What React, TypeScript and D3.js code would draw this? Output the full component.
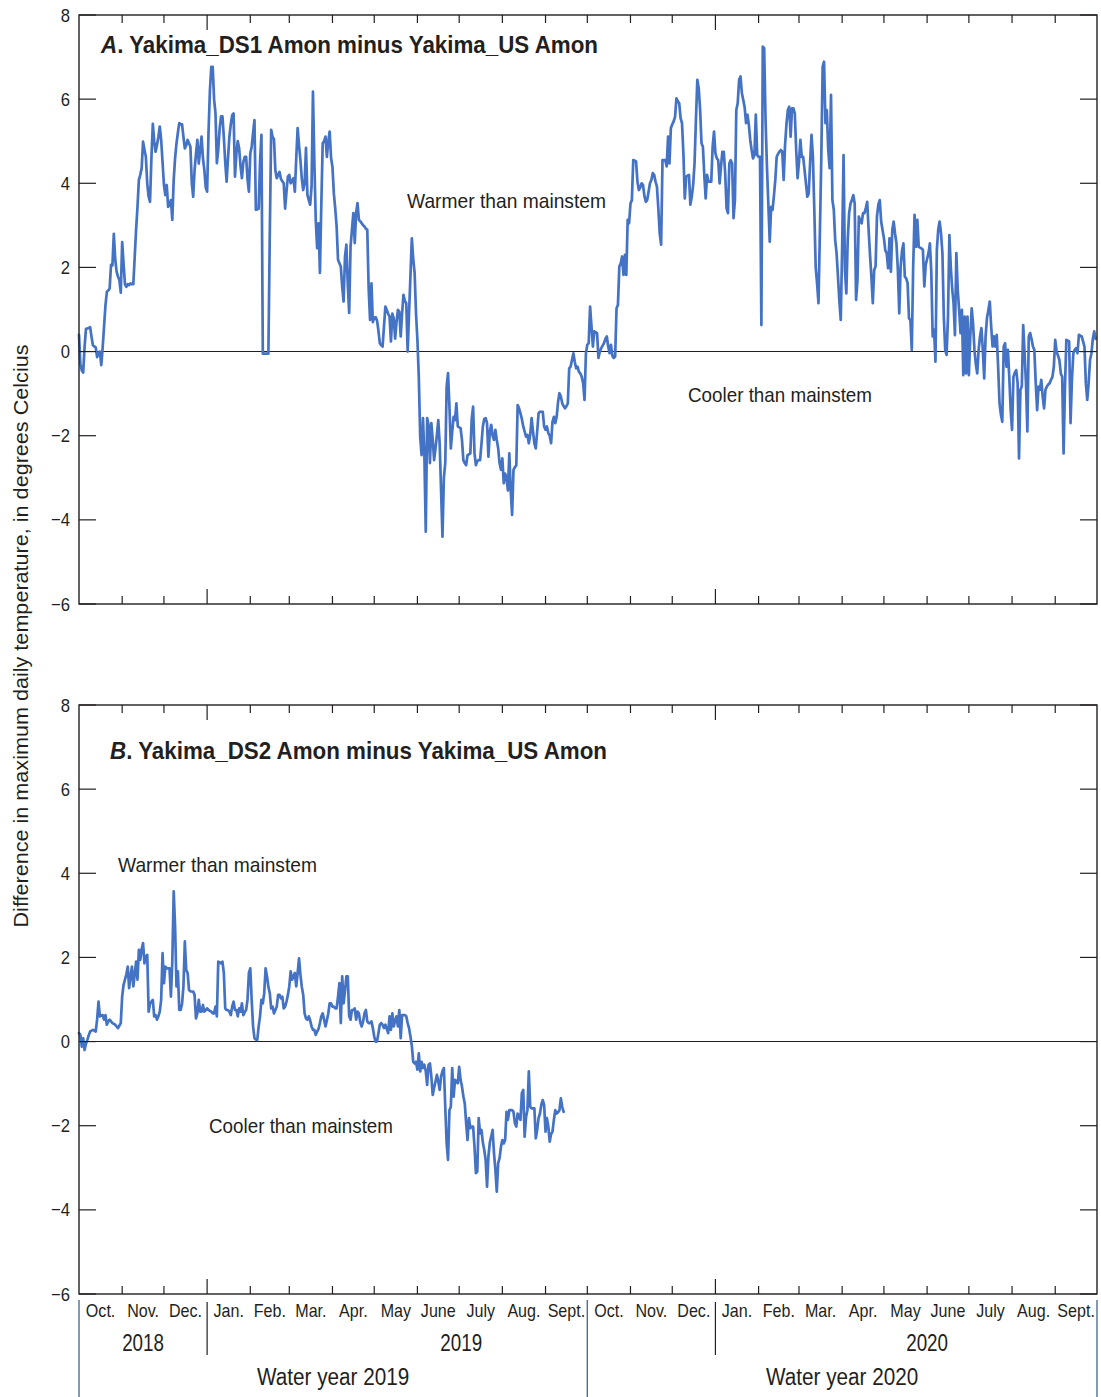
import React from "react";
import * as d3 from "d3";

// Daily difference in maximum water temperature, starting 1 Oct 2018
const START = Date.UTC(2018, 9, 1);
const END = Date.UTC(2020, 9, 1);
const DAY = 86400000;

// Yakima_DS1 Amon minus Yakima_US Amon, water years 2019-2020
const ds1Diff: number[] = [
  0.40, -0.30, -0.45, -0.50, 0.10, 0.54, 0.55, 0.56, 0.58, 0.35,
  0.15, 0.12, 0.10, -0.13, -0.05, 0.00, -0.32, 0.10, 0.60, 1.10,
  1.42, 1.45, 1.50, 2.06, 2.05, 2.80, 2.20, 1.90, 1.78, 1.70,
  1.40, 2.60, 2.10, 1.60, 1.54, 1.60, 1.58, 1.62, 1.60, 1.60,
  2.25, 2.90, 3.44, 4.08, 4.20, 4.36, 4.99, 4.80, 4.63, 4.00,
  3.68, 3.56, 4.60, 5.41, 5.00, 4.75, 4.91, 5.10, 5.35, 5.03,
  4.50, 3.96, 3.72, 3.96, 3.44, 3.50, 3.60, 3.13, 4.08, 4.60,
  4.95, 5.20, 5.43, 5.40, 5.40, 5.10, 4.83, 4.90, 5.03, 4.95,
  4.87, 4.00, 3.68, 4.32, 4.70, 5.03, 4.47, 4.80, 5.11, 4.60,
  4.32, 3.90, 3.80, 5.20, 6.20, 6.77, 6.77, 6.00, 5.67, 4.48,
  4.80, 5.30, 5.59, 5.59, 5.10, 4.50, 4.04, 4.60, 5.11, 5.40,
  5.62, 5.66, 4.16, 4.70, 5.00, 4.83, 4.40, 4.12, 4.50, 4.63,
  4.63, 4.10, 3.80, 4.71, 4.87, 5.20, 5.50, 3.37, 3.38, 3.40,
  4.50, 5.15, -0.05, -0.05, -0.05, -0.05, -0.05, 2.80, 5.27, 5.10,
  5.05, 4.31, 4.12, 4.20, 4.27, 4.10, 4.05, 4.00, 3.40, 3.80,
  4.16, 4.20, 4.00, 4.05, 4.12, 3.80, 4.60, 5.31, 4.90, 4.55,
  4.10, 3.84, 4.00, 4.84, 3.73, 3.60, 3.49, 3.92, 6.18, 4.50,
  3.13, 2.46, 3.05, 1.87, 3.50, 4.95, 5.00, 5.11, 4.63, 5.00,
  5.23, 4.60, 4.39, 3.76, 3.40, 2.97, 2.18, 2.10, 2.02, 1.54,
  1.19, 2.26, 2.54, 1.60, 0.92, 2.50, 2.90, 3.29, 2.58, 3.30,
  3.53, 3.13, 3.10, 3.05, 3.00, 2.97, 2.92, 2.90, 1.50, 0.75,
  1.62, 0.70, 0.80, 0.82, 0.74, 0.50, 0.20, 0.15, 0.12, 0.60,
  1.07, 0.99, 0.90, 0.83, 0.24, 0.90, 0.79, 0.31, 0.70, 0.99,
  0.95, 0.36, 0.90, 1.35, 1.20, 1.15, 0.00, 0.91, 1.80, 2.69,
  2.20, 1.87, 0.91, 0.28, -0.60, -2.02, -2.46, -1.58, -2.46, -4.28,
  -1.58, -1.75, -2.65, -1.70, -2.10, -2.58, -2.30, -1.98, -1.63, -2.20,
  -3.30, -4.40, -3.00, -2.65, -0.83, -0.51, -1.30, -2.30, -1.90, -1.55,
  -1.63, -1.23, -1.78, -1.80, -1.82, -2.10, -2.58, -2.65, -2.70, -2.46,
  -2.44, -2.42, -1.60, -1.31, -2.42, -2.70, -2.60, -2.58, -2.58, -2.20,
  -1.78, -1.60, -1.58, -1.70, -2.50, -1.90, -1.74, -2.00, -2.10, -1.86,
  -2.10, -2.30, -2.65, -2.81, -2.54, -3.13, -2.90, -3.00, -3.30, -2.42,
  -3.30, -3.88, -2.81, -2.75, -2.70, -1.27, -1.35, -1.47, -1.60, -1.78,
  -1.90, -2.02, -1.98, -2.18, -1.98, -1.58, -1.90, -2.18, -2.30, -1.90,
  -1.47, -1.43, -1.43, -1.43, -1.78, -1.86, -1.78, -1.94, -2.00, -2.18,
  -1.67, -1.55, -1.70, -1.55, -1.20, -0.99, -1.07, -1.23, -1.30, -1.35,
  -1.30, -1.23, -0.40, -0.36, -0.20, -0.04, -0.24, -0.40, -0.36, -0.48,
  -0.52, -0.60, -0.75, -1.15, -0.04, 0.16, 0.20, 1.07, 0.60, 0.12,
  0.48, 0.46, 0.44, -0.15, 0.00, 0.08, 0.14, 0.20, 0.30, 0.36,
  0.12, -0.04, 0.16, -0.10, -0.15, -0.12, 1.03, 1.11, 2.02, 2.10,
  2.26, 1.82, 2.30, 1.82, 3.13, 3.05, 3.52, 3.60, 4.55, 4.54,
  4.52, 4.04, 3.84, 3.90, 4.00, 3.96, 3.70, 3.56, 3.60, 3.80,
  4.00, 4.08, 4.24, 4.20, 4.04, 3.92, 3.40, 2.81, 2.54, 4.55,
  4.55, 4.55, 4.40, 5.11, 4.47, 5.31, 5.40, 5.47, 5.58, 6.02,
  5.95, 5.90, 5.55, 5.43, 4.71, 3.64, 4.16, 4.18, 4.20, 3.49,
  3.68, 3.96, 4.47, 5.50, 6.46, 6.26, 5.75, 4.95, 4.87, 4.20,
  3.64, 4.20, 4.04, 4.04, 4.04, 4.87, 5.23, 4.71, 4.59, 4.55,
  4.00, 4.40, 4.75, 4.75, 4.24, 3.41, 3.29, 4.47, 4.55, 4.47,
  3.17, 3.60, 5.74, 5.90, 6.46, 6.54, 6.14, 5.98, 5.80, 5.43,
  5.63, 5.39, 5.03, 4.79, 4.59, 4.67, 5.63, 4.67, 4.63, 4.63,
  0.63, 7.25, 7.21, 5.50, 4.40, 3.50, 2.61, 3.44, 3.37, 3.70,
  4.08, 4.63, 4.70, 4.75, 4.79, 4.75, 4.08, 4.91, 5.40, 5.74,
  5.82, 5.11, 5.78, 5.78, 5.66, 4.79, 4.12, 4.50, 5.03, 4.63,
  4.63, 4.32, 4.00, 3.68, 3.76, 4.50, 5.15, 4.63, 3.37, 2.00,
  1.62, 1.15, 2.81, 4.55, 6.77, 6.89, 5.43, 5.74, 4.80, 4.36,
  6.10, 3.60, 3.37, 2.65, 2.34, 1.78, 1.20, 0.75, 2.49, 4.67,
  1.94, 1.38, 2.65, 3.29, 3.52, 3.60, 3.72, 3.52, 1.23, 1.70,
  3.21, 3.10, 3.05, 3.29, 3.29, 3.41, 3.56, 2.89, 2.30, 1.78,
  1.15, 1.94, 2.02, 3.21, 3.50, 3.60, 3.09, 2.89, 2.69, 2.40,
  2.34, 1.98, 2.69, 1.90, 2.89, 3.09, 2.80, 2.57, 1.94, 0.91,
  2.02, 2.40, 2.57, 1.78, 1.74, 1.62, 0.79, 0.75, 0.04, 2.02,
  3.25, 2.49, 3.13, 2.49, 2.47, 2.45, 2.42, 1.55, 2.06, 2.20,
  2.34, 2.57, 1.90, 0.36, 0.52, -0.24, 2.42, 2.90, 3.09, 2.81,
  2.34, 0.83, 0.04, -0.08, 0.83, 2.77, 2.02, 1.50, 1.15, 0.39,
  2.34, 1.47, 0.99, 0.44, 0.99, -0.56, 0.83, -0.52, 0.83, -0.56,
  0.36, 1.03, 0.67, 0.04, -0.30, -0.52, 0.04, 0.36, 0.56, 0.04,
  -0.64, 0.36, 0.80, 0.99, 1.19, 0.60, 0.12, 0.36, 0.12, 0.40,
  -0.36, -1.23, -1.50, -1.67, 0.12, 0.20, -0.36, 0.04, -0.60, -1.39,
  -1.86, -0.60, -0.50, -0.44, -0.75, -2.54, -0.91, -0.83, 0.63, -0.04,
  -0.75, -1.90, 0.36, 0.44, 0.30, 0.12, 0.04, -0.75, -1.39, -0.83,
  -0.91, -0.67, -1.07, -1.35, -0.91, -0.83, -0.78, -0.75, -0.67, -0.60,
  -0.36, 0.28, 0.00, -0.10, -0.20, -0.52, -0.60, -2.42, -0.83, 0.28,
  0.26, 0.24, -1.70, -0.67, -0.04, 0.04, 0.08, -0.04, 0.40, 0.38,
  0.36, 0.24, 0.12, -0.75, -1.15, -0.75, -0.20, -0.04, 0.30, 0.48,
  0.30,
];

// Yakima_DS2 Amon minus Yakima_US Amon, record ends mid-September 2019
const ds2Diff: number[] = [
  0.20, 0.16, -0.12, 0.08, -0.20, -0.05, 0.04, 0.15, 0.24, 0.26,
  0.28, 0.26, 0.24, 0.52, 0.95, 0.60, 0.62, 0.63, 0.52, 0.63,
  0.40, 0.48, 0.52, 0.48, 0.44, 0.42, 0.40, 0.36, 0.32, 0.38,
  0.44, 1.07, 1.35, 1.47, 1.60, 1.78, 1.27, 1.55, 1.78, 1.31,
  1.60, 1.90, 1.47, 2.18, 1.94, 2.20, 2.34, 1.86, 2.02, 2.06,
  0.71, 0.90, 0.95, 0.99, 0.60, 0.63, 0.52, 0.60, 0.71, 0.99,
  2.10, 1.39, 1.78, 1.74, 1.74, 1.74, 1.07, 1.90, 3.57, 2.73,
  1.31, 1.67, 0.75, 0.75, 0.90, 1.31, 2.38, 1.70, 1.63, 1.23,
  1.19, 1.19, 1.19, 1.11, 0.55, 0.67, 0.99, 0.71, 0.71, 0.87,
  0.71, 0.75, 0.79, 0.75, 0.73, 0.71, 0.67, 0.67, 0.83, 0.60,
  1.90, 1.88, 1.86, 1.90, 1.63, 0.79, 0.75, 0.75, 0.71, 0.63,
  0.83, 0.95, 0.75, 0.75, 0.60, 0.79, 0.71, 0.91, 0.63, 0.70,
  0.75, 0.99, 1.63, 1.74, 0.99, 0.36, 0.08, 0.05, 0.04, 0.36,
  0.60, 0.99, 0.91, 1.15, 1.74, 1.55, 1.30, 1.15, 0.79, 0.83,
  0.67, 0.75, 0.83, 1.11, 1.11, 1.03, 1.07, 0.79, 0.83, 0.95,
  1.11, 1.31, 1.67, 1.47, 1.55, 1.63, 1.31, 1.63, 1.98, 1.59,
  1.30, 1.11, 0.67, 0.55, 0.52, 0.60, 0.50, 0.36, 0.28, 0.28,
  0.16, 0.24, 0.30, 0.44, 0.60, 0.67, 0.52, 0.36, 0.50, 0.67,
  0.91, 0.91, 0.83, 0.83, 0.79, 0.79, 1.07, 1.39, 0.44, 1.55,
  0.91, 1.20, 1.55, 1.55, 0.60, 0.52, 0.75, 0.75, 0.79, 0.52,
  0.71, 0.67, 0.45, 0.36, 0.48, 0.67, 0.75, 0.48, 0.44, 0.44,
  0.48, 0.32, 0.12, 0.00, 0.00, 0.20, 0.40, 0.44, 0.40, 0.32,
  0.40, 0.30, 0.20, 0.60, 0.28, 0.67, 0.36, 0.50, 0.60, 0.36,
  0.75, 0.08, 0.63, 0.63, 0.63, 0.60, 0.44, 0.32, 0.12, -0.10,
  -0.48, -0.52, -0.48, -0.67, -0.28, -0.71, -0.48, -0.63, -0.55, -0.70,
  -1.03, -0.55, -0.52, -0.83, -1.27, -1.10, -0.95, -0.79, -0.95, -1.15,
  -0.83, -0.70, -0.63, -1.55, -2.42, -2.81, -1.63, -1.55, -0.63, -1.31,
  -0.91, -0.95, -0.99, -0.60, -0.91, -1.07, -1.30, -1.47, -1.94, -2.34,
  -1.82, -2.06, -2.02, -2.02, -2.50, -3.13, -3.09, -1.82, -2.18, -2.10,
  -2.40, -2.58, -2.81, -3.45, -2.73, -2.40, -2.26, -2.10, -2.65, -3.05,
  -3.57, -2.89, -2.77, -2.50, -2.34, -2.42, -2.34, -1.67, -1.86, -1.63,
  -1.63, -1.63, -1.67, -1.94, -2.02, -1.71, -1.80, -1.86, -1.23, -1.15,
  -2.26, -1.80, -1.63, -0.71, -1.55, -1.59, -1.59, -1.59, -2.30, -2.10,
  -1.82, -1.71, -1.50, -1.39, -1.51, -2.14, -1.82, -2.02, -2.38, -2.20,
  -2.14, -1.86, -1.63, -1.71, -1.68, -1.63, -1.35, -1.55, -1.67,
];

const yTickValues = [-6, -4, -2, 0, 2, 4, 6, 8];
const monthNames = ["Jan.", "Feb.", "Mar.", "Apr.", "May", "June", "July", "Aug.", "Sept.", "Oct.", "Nov.", "Dec."];
const calendarYears = [
  { label: "2018", from: Date.UTC(2018, 9, 1), to: Date.UTC(2019, 0, 1) },
  { label: "2019", from: Date.UTC(2019, 0, 1), to: Date.UTC(2020, 0, 1) },
  { label: "2020", from: Date.UTC(2020, 2, 1), to: Date.UTC(2020, 8, 1) },
];
const waterYears = [
  { label: "Water year 2019", from: Date.UTC(2018, 9, 1), to: Date.UTC(2019, 9, 1) },
  { label: "Water year 2020", from: Date.UTC(2019, 9, 1), to: Date.UTC(2020, 9, 1) },
];

const FONT = "'Liberation Sans', Arial, Helvetica, sans-serif";
const INK = "#231f20";
const SERIES = "#4472c4";
const DIVIDER = "#4f6d92";

const W = 1101;
const H = 1397;
const LEFT = 79;
const RIGHT = 1097;
const PANEL_H = 589;

const x = d3.scaleUtc().domain([new Date(START), new Date(END)]).range([LEFT, RIGHT]);
const dayDate = (i: number) => new Date(START + i * DAY);
const monthStarts = d3.utcMonth.range(new Date(START), new Date(END));

type Note = { text: string; x: number; y: number; len: number };

function Label(props: {
  x: number; y: number; size: number; sx?: number; anchor?: string;
  weight?: string | number; children: React.ReactNode; len?: number;
}) {
  const { x: tx, y: ty, size, sx = 1, anchor = "middle", weight = "normal", children, len } = props;
  return (
    <text
      transform={`translate(${tx},${ty}) scale(${sx},1)`}
      textAnchor={anchor}
      fontFamily={FONT}
      fontSize={size}
      fontWeight={weight}
      fill={INK}
      textLength={len}
      lengthAdjust={len ? "spacingAndGlyphs" : undefined}
    >
      {children}
    </text>
  );
}

function Panel(props: {
  top: number; values: number[]; letter: string; rest: string;
  titleX: number; titleY: number; notes: Note[];
}) {
  const { top, values, letter, rest, titleX, titleY, notes } = props;
  const bottom = top + PANEL_H;
  const y = d3.scaleLinear().domain([-6, 8]).range([bottom, top]);
  const line = d3
    .line<number>()
    .x((_, i) => x(dayDate(i)))
    .y((v) => y(v));
  const inner = monthStarts.slice(1);
  return (
    <g>
      {/* zero reference */}
      <line x1={LEFT} x2={RIGHT} y1={y(0)} y2={y(0)} stroke={INK} strokeWidth={1.1} />
      <path d={line(values) || ""} fill="none" stroke={SERIES} strokeWidth={2.7} strokeLinejoin="round" strokeLinecap="round" />
      {/* month ticks, longer at each new calendar year */}
      {inner.map((m, i) => {
        const len = m.getUTCMonth() === 0 ? 15 : 8;
        const mx = x(m);
        return (
          <g key={i}>
            <line x1={mx} x2={mx} y1={top} y2={top + len} stroke={INK} strokeWidth={1.2} />
            <line x1={mx} x2={mx} y1={bottom} y2={bottom - len} stroke={INK} strokeWidth={1.2} />
          </g>
        );
      })}
      {/* value ticks on both sides */}
      {yTickValues.map((v) => (
        <g key={v}>
          <line x1={LEFT} x2={LEFT + 17} y1={y(v)} y2={y(v)} stroke={INK} strokeWidth={1.2} />
          <line x1={RIGHT - 17} x2={RIGHT} y1={y(v)} y2={y(v)} stroke={INK} strokeWidth={1.2} />
          <Label x={70} y={y(v) + 6.5} size={18.5} sx={0.9} anchor="end">
            {v < 0 ? `\u2212${Math.abs(v)}` : `${v}`}
          </Label>
        </g>
      ))}
      <rect x={LEFT} y={top} width={RIGHT - LEFT} height={PANEL_H} fill="none" stroke={INK} strokeWidth={1.4} />
      <text x={titleX} y={titleY} fontFamily={FONT} fontSize={24} fontWeight="bold" fill={INK} textLength={497} lengthAdjust="spacingAndGlyphs">
        <tspan fontStyle="italic">{letter}</tspan>
        {rest}
      </text>
      {notes.map((n, i) => (
        <Label key={i} x={n.x} y={n.y} size={21} anchor="start" len={n.len}>
          {n.text}
        </Label>
      ))}
    </g>
  );
}

export default function App() {
  const axisY = 705 + PANEL_H;
  return (
    <svg
      width={W}
      height={H}
      viewBox={`0 0 ${W} ${H}`}
      style={{ position: "absolute", left: 0, top: 0, background: "#fff" }}
    >
      <rect width={W} height={H} fill="#fff" />
      <Panel
        top={15}
        values={ds1Diff}
        letter="A"
        rest=". Yakima_DS1 Amon minus Yakima_US Amon"
        titleX={101}
        titleY={53}
        notes={[
          { text: "Warmer than mainstem", x: 407, y: 208, len: 199 },
          { text: "Cooler than mainstem", x: 688, y: 402, len: 184 },
        ]}
      />
      <Panel
        top={705}
        values={ds2Diff}
        letter="B"
        rest=". Yakima_DS2 Amon minus Yakima_US Amon"
        titleX={110}
        titleY={759}
        notes={[
          { text: "Warmer than mainstem", x: 118, y: 872, len: 199 },
          { text: "Cooler than mainstem", x: 209, y: 1133, len: 184 },
        ]}
      />

      {/* month names under the lower panel */}
      {monthStarts.map((m, i) => {
        const next = d3.utcMonth.offset(m, 1);
        return (
          <Label key={i} x={(x(m) + x(next)) / 2} y={1317} size={17.5} sx={0.92}>
            {monthNames[m.getUTCMonth()]}
          </Label>
        );
      })}

      {/* calendar-year dividers and labels */}
      {[Date.UTC(2019, 0, 1), Date.UTC(2020, 0, 1)].map((t) => (
        <line key={t} x1={x(new Date(t))} x2={x(new Date(t))} y1={1302} y2={1355} stroke={INK} strokeWidth={1.2} />
      ))}
      {calendarYears.map((c) => (
        <Label key={c.label} x={(x(new Date(c.from)) + x(new Date(c.to))) / 2} y={1351} size={23.5} sx={0.8}>
          {c.label}
        </Label>
      ))}

      {/* water-year dividers and labels */}
      {[START, Date.UTC(2019, 9, 1), END].map((t) => (
        <line key={t} x1={x(new Date(t))} x2={x(new Date(t))} y1={axisY + 6} y2={H} stroke={DIVIDER} strokeWidth={1.4} />
      ))}
      {waterYears.map((w) => (
        <Label key={w.label} x={(x(new Date(w.from)) + x(new Date(w.to))) / 2} y={1385} size={24.5} sx={0.845}>
          {w.label}
        </Label>
      ))}

      {/* shared vertical axis title */}
      <text
        transform="translate(28,636) rotate(-90)"
        textAnchor="middle"
        fontFamily={FONT}
        fontSize={20.5}
        fill={INK}
        textLength={583}
        lengthAdjust="spacingAndGlyphs"
      >
        Difference in maximum daily temperature, in degrees Celcius
      </text>
    </svg>
  );
}
